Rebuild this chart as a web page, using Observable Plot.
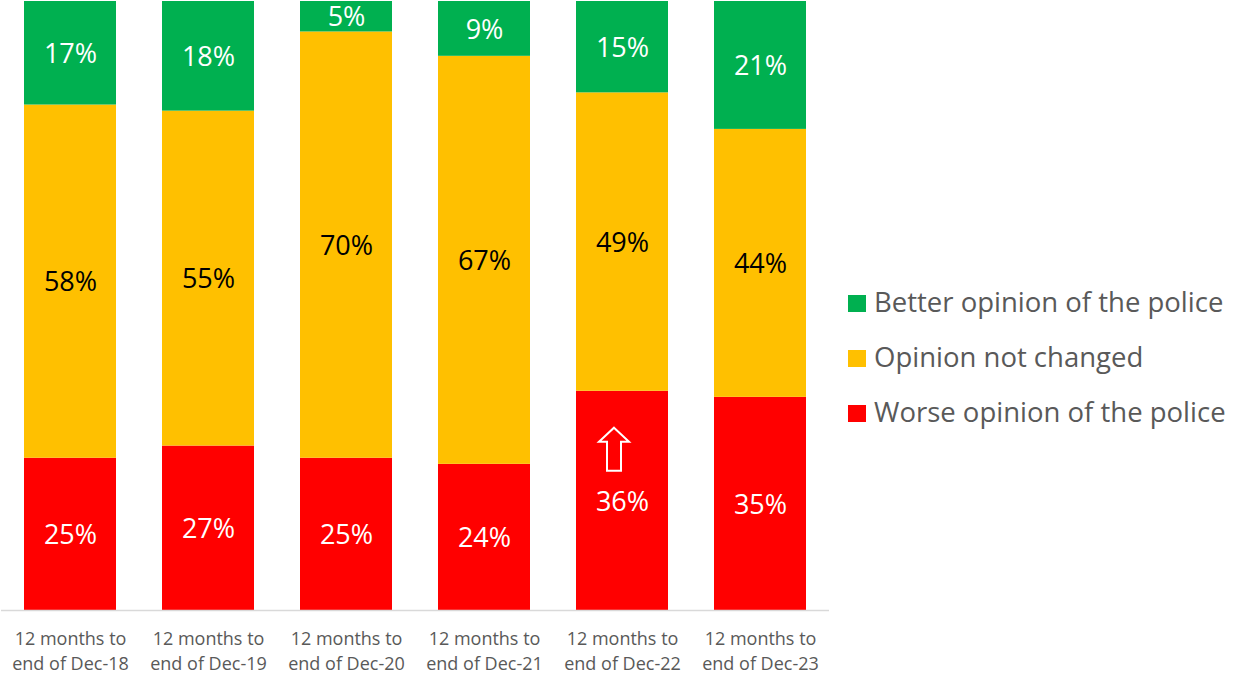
<!DOCTYPE html>
<html><head><meta charset="utf-8">
<script src="https://cdn.jsdelivr.net/npm/d3@7"></script>
<script src="https://cdn.jsdelivr.net/npm/@observablehq/plot@0.6"></script>
<style>
body{margin:0;background:#fff;font-family:"Open Sans", Lato, sans-serif}
#wrap{position:relative;width:1236px;height:679px;overflow:hidden}
#chart{position:absolute;left:0;top:0}
.item{position:absolute;left:848px;height:30px;line-height:30px;display:flex;align-items:center;white-space:nowrap;color:#595959;font-size:27.5px}
.sw{width:18px;height:17px;margin-right:8px;margin-top:2px;flex:none}
</style></head><body><div id="wrap"><div id="chart"></div><div id="legend"></div></div>
<script>
// ---- data ----
const periods = ["Dec-18","Dec-19","Dec-20","Dec-21","Dec-22","Dec-23"];
const tickLabels = ["12 months to\nend of Dec-18","12 months to\nend of Dec-19","12 months to\nend of Dec-20","12 months to\nend of Dec-21","12 months to\nend of Dec-22","12 months to\nend of Dec-23"];
const worse = [25,27,25,24,36,35];
const unchanged = [58,55,70,67,49,44];
const better = [17,18,5,9,15,21];
const seriesNames = ["Worse opinion of the police","Opinion not changed","Better opinion of the police"];
const seriesColors = ["#FF0000","#FFC000","#00B050"];
const labelColors = ["#FFFFFF","#000000","#FFFFFF"];
const arrowAt = {period: "Dec-22", value: 26.4};

const seriesValues = [worse, unchanged, better];
const rows = [];
periods.forEach((p, i) => {
  seriesValues.forEach((vals, s) => {
    rows.push({period: p, series: seriesNames[s], value: vals[i], color: seriesColors[s], labelColor: labelColors[s]});
  });
});

function arrowMark(index, scales) {
  const x = scales.x, y = scales.y;
  const bw = x.bandwidth ? x.bandwidth() : 0;
  const cx = x(arrowAt.period) + bw / 2 - 8;
  const cy = y(arrowAt.value);
  const pts = [[0,-21.5],[15,-7.5],[7,-7.5],[7,21.5],[-7,21.5],[-7,-7.5],[-15,-7.5]];
  const g = d3.create("svg:g");
  g.append("path")
    .attr("d", "M" + pts.map(([a,b]) => (cx + a) + "," + (cy + b)).join("L") + "Z")
    .attr("fill", "none")
    .attr("stroke", "#FFFFFF")
    .attr("stroke-width", 2)
    .attr("stroke-linejoin", "miter");
  return g.node();
}

const chart = Plot.plot({
  width: 840,
  height: 679,
  marginLeft: 1,
  marginRight: 11,
  marginTop: 1,
  marginBottom: 69,
  style: {fontFamily: "'Open Sans', Lato, sans-serif", color: "#595959", background: "#fff", overflow: "visible"},
  x: {domain: periods, paddingInner: 1/3, paddingOuter: 1/6, label: null},
  y: {domain: [0, 100], axis: null},
  color: {type: "identity"},
  marks: [
    Plot.barY(rows, Plot.stackY({x: "period", y: "value", fill: "color"})),
    Plot.text(rows, Plot.stackY({x: "period", y: "value", text: d => d.value + "%", fill: "labelColor", fontSize: 27, dy: 1})),
    Plot.ruleY([0], {stroke: "#D9D9D9", strokeWidth: 1.5}),
    Plot.axisX({tickSize: 0, tickPadding: 17, fontSize: 18, lineHeight: 25/18, tickFormat: (d) => tickLabels[periods.indexOf(d)], fill: "#595959", label: null}),
    arrowMark
  ]
});
document.getElementById("chart").appendChild(chart);

const legendOrder = [2, 1, 0];
const rowCenters = [302, 357, 412];
const legend = document.getElementById("legend");
legendOrder.forEach((s, k) => {
  const item = document.createElement("div");
  item.className = "item";
  item.style.top = (rowCenters[k] - 15) + "px";
  const sw = document.createElement("span");
  sw.className = "sw";
  sw.style.background = seriesColors[s];
  const t = document.createElement("span");
  t.textContent = seriesNames[s];
  item.appendChild(sw); item.appendChild(t);
  legend.appendChild(item);
});
</script></body></html>
